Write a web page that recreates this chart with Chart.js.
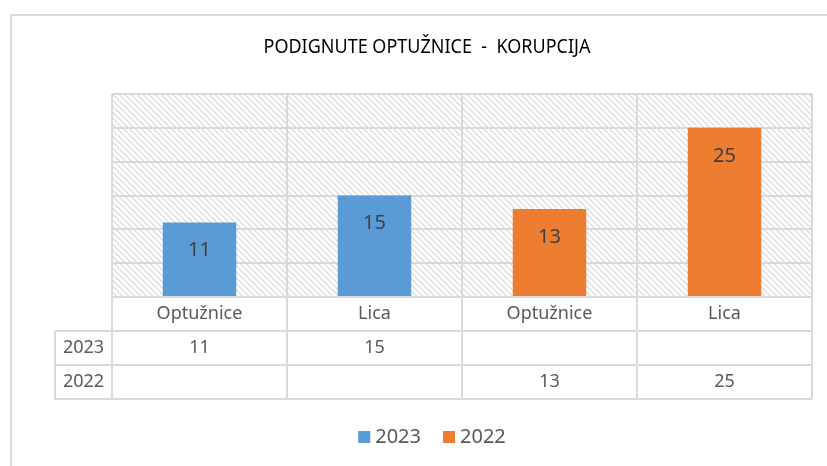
<!DOCTYPE html>
<html>
<head>
<meta charset="utf-8">
<script src="https://cdn.jsdelivr.net/npm/chart.js@4.4.1/dist/chart.umd.min.js"></script>
<style>
  html, body { margin: 0; padding: 0; background: #fff; }
  #wrap { width: 827px; height: 466px; position: relative; }
</style>
</head>
<body>
<div id="wrap"><canvas id="chart"></canvas></div>
<script>
// data
var categories = ['Optužnice', 'Lica', 'Optužnice', 'Lica'];
var seriesNames = ['2023', '2022'];
var values2023 = [11, 15, null, null];
var values2022 = [null, null, 13, 25];
var yTicks = [0, 5, 10, 15, 20, 25, 30];
var chartTitle = 'PODIGNUTE OPTUŽNICE  -  KORUPCIJA';

var colors = ['#5B9BD5', '#ED7D31'];
var lineColor = '#d9d9d9';
var textColor = '#595959';
var fontFamily = '"Noto Sans", "Open Sans", sans-serif';
var rowH = 34;

function hatchPattern(ctx) {
    var c = document.createElement('canvas');
    c.width = 6; c.height = 6;
    var g = c.getContext('2d');
    g.fillStyle = '#fff';
    g.fillRect(0, 0, 6, 6);
    g.fillStyle = '#e0e0e0';
    for (var x = 0; x < 6; x++) {
        for (var y = 0; y < 6; y++) {
            var d = ((x - y) % 6 + 6) % 6;
            if (d === 0 || d === 1) g.fillRect(x, y, 1, 1);
        }
    }
    return ctx.createPattern(c, 'repeat');
}

// frame + hatched plot background
var backgroundPlugin = {
    id: 'background',
    beforeDraw: function(chart) {
        var ctx = chart.ctx, a = chart.chartArea;
        ctx.save();
        ctx.strokeStyle = lineColor;
        ctx.lineWidth = 2;
        ctx.beginPath();
        ctx.moveTo(11, chart.height);
        ctx.lineTo(11, 15);
        ctx.lineTo(chart.width, 15);
        ctx.stroke();
        ctx.fillStyle = hatchPattern(ctx);
        ctx.fillRect(a.left, a.top, a.right - a.left, a.bottom - a.top);
        ctx.restore();
    }
};

// title, value labels, data table, legend
var extrasPlugin = {
    id: 'extras',
    afterDatasetsDraw: function(chart) {
        var ctx = chart.ctx, a = chart.chartArea, xs = chart.scales.x;
        ctx.save();

        // title
        ctx.font = '19px ' + fontFamily;
        ctx.fillStyle = '#000';
        ctx.textBaseline = 'middle';
        ctx.textAlign = 'center';
        var tw = ctx.measureText(chartTitle).width;
        var sx = Math.min(1, 327 / tw);
        ctx.translate(427, 48);
        ctx.scale(sx, 1);
        ctx.fillText(chartTitle, 0, 0);
        ctx.setTransform(1, 0, 0, 1, 0, 0);

        // value labels inside bars
        ctx.font = '20px ' + fontFamily;
        ctx.fillStyle = '#404040';
        chart.data.datasets.forEach(function(ds, di) {
            var meta = chart.getDatasetMeta(di);
            meta.data.forEach(function(bar, i) {
                if (ds.data[i] == null) return;
                ctx.fillText(String(ds.data[i]), bar.x, bar.y + 28);
            });
        });

        // data table
        var n = categories.length;
        var step = (a.right - a.left) / n;
        var top = a.bottom;
        var leftCol = 55;
        var bottom = top + rowH * (1 + seriesNames.length);
        ctx.strokeStyle = lineColor;
        ctx.lineWidth = 2;
        ctx.beginPath();
        for (var i = 0; i <= n; i++) {
            var x = Math.round(a.left + step * i);
            ctx.moveTo(x, top);
            ctx.lineTo(x, bottom);
        }
        for (var r = 1; r <= seriesNames.length; r++) {
            var y = top + rowH * r;
            ctx.moveTo(leftCol, y);
            ctx.lineTo(a.right, y);
        }
        ctx.moveTo(leftCol, top + rowH);
        ctx.lineTo(leftCol, bottom);
        ctx.lineTo(a.right, bottom);
        ctx.stroke();

        ctx.font = '18px ' + fontFamily;
        ctx.fillStyle = textColor;
        categories.forEach(function(c, i) {
            ctx.fillText(c, xs.getPixelForValue(i), top + rowH / 2);
        });
        chart.data.datasets.forEach(function(ds, di) {
            var cy = top + rowH * (di + 1) + rowH / 2;
            ctx.fillText(ds.label, (leftCol + a.left) / 2, cy);
            ds.data.forEach(function(v, i) {
                if (v == null) return;
                ctx.fillText(String(v), xs.getPixelForValue(i), cy);
            });
        });

        // legend
        ctx.font = '20px ' + fontFamily;
        ctx.textAlign = 'left';
        var items = chart.data.datasets.map(function(ds) {
            return { label: ds.label, color: ds.backgroundColor, w: ctx.measureText(ds.label).width };
        });
        var box = 12, gap = 5, spacing = 22;
        var total = 0;
        items.forEach(function(it, k) { total += box + gap + it.w + (k ? spacing : 0); });
        var lx = 432 - total / 2, ly = 437;
        items.forEach(function(it) {
            ctx.fillStyle = it.color;
            ctx.fillRect(lx, ly - 6, box, box);
            ctx.fillStyle = textColor;
            ctx.fillText(it.label, lx + box + gap, ly);
            lx += box + gap + it.w + spacing;
        });

        ctx.restore();
    }
};

new Chart(document.getElementById('chart'), {
    type: 'bar',
    data: {
        labels: categories,
        datasets: [
            { label: seriesNames[0], data: values2023, backgroundColor: colors[0] },
            { label: seriesNames[1], data: values2022, backgroundColor: colors[1] }
        ]
    },
    options: {
        responsive: true,
        maintainAspectRatio: false,
        animation: false,
        layout: { padding: { left: 112, right: 15, top: 94, bottom: 169 } },
        datasets: { bar: { grouped: false, categoryPercentage: 1, barPercentage: 0.42 } },
        plugins: { legend: { display: false }, title: { display: false }, tooltip: { enabled: false } },
        scales: {
            x: {
                display: true,
                ticks: { display: false },
                grid: { offset: true, color: lineColor, lineWidth: 2, drawTicks: false },
                border: { display: false }
            },
            y: {
                display: true,
                min: yTicks[0],
                max: yTicks[yTicks.length - 1],
                afterBuildTicks: function(axis) { axis.ticks = yTicks.map(function(v) { return { value: v }; }); },
                ticks: { display: false },
                grid: { color: lineColor, lineWidth: 2, drawTicks: false },
                border: { display: false }
            }
        }
    },
    plugins: [backgroundPlugin, extrasPlugin]
});
</script>
</body>
</html>
